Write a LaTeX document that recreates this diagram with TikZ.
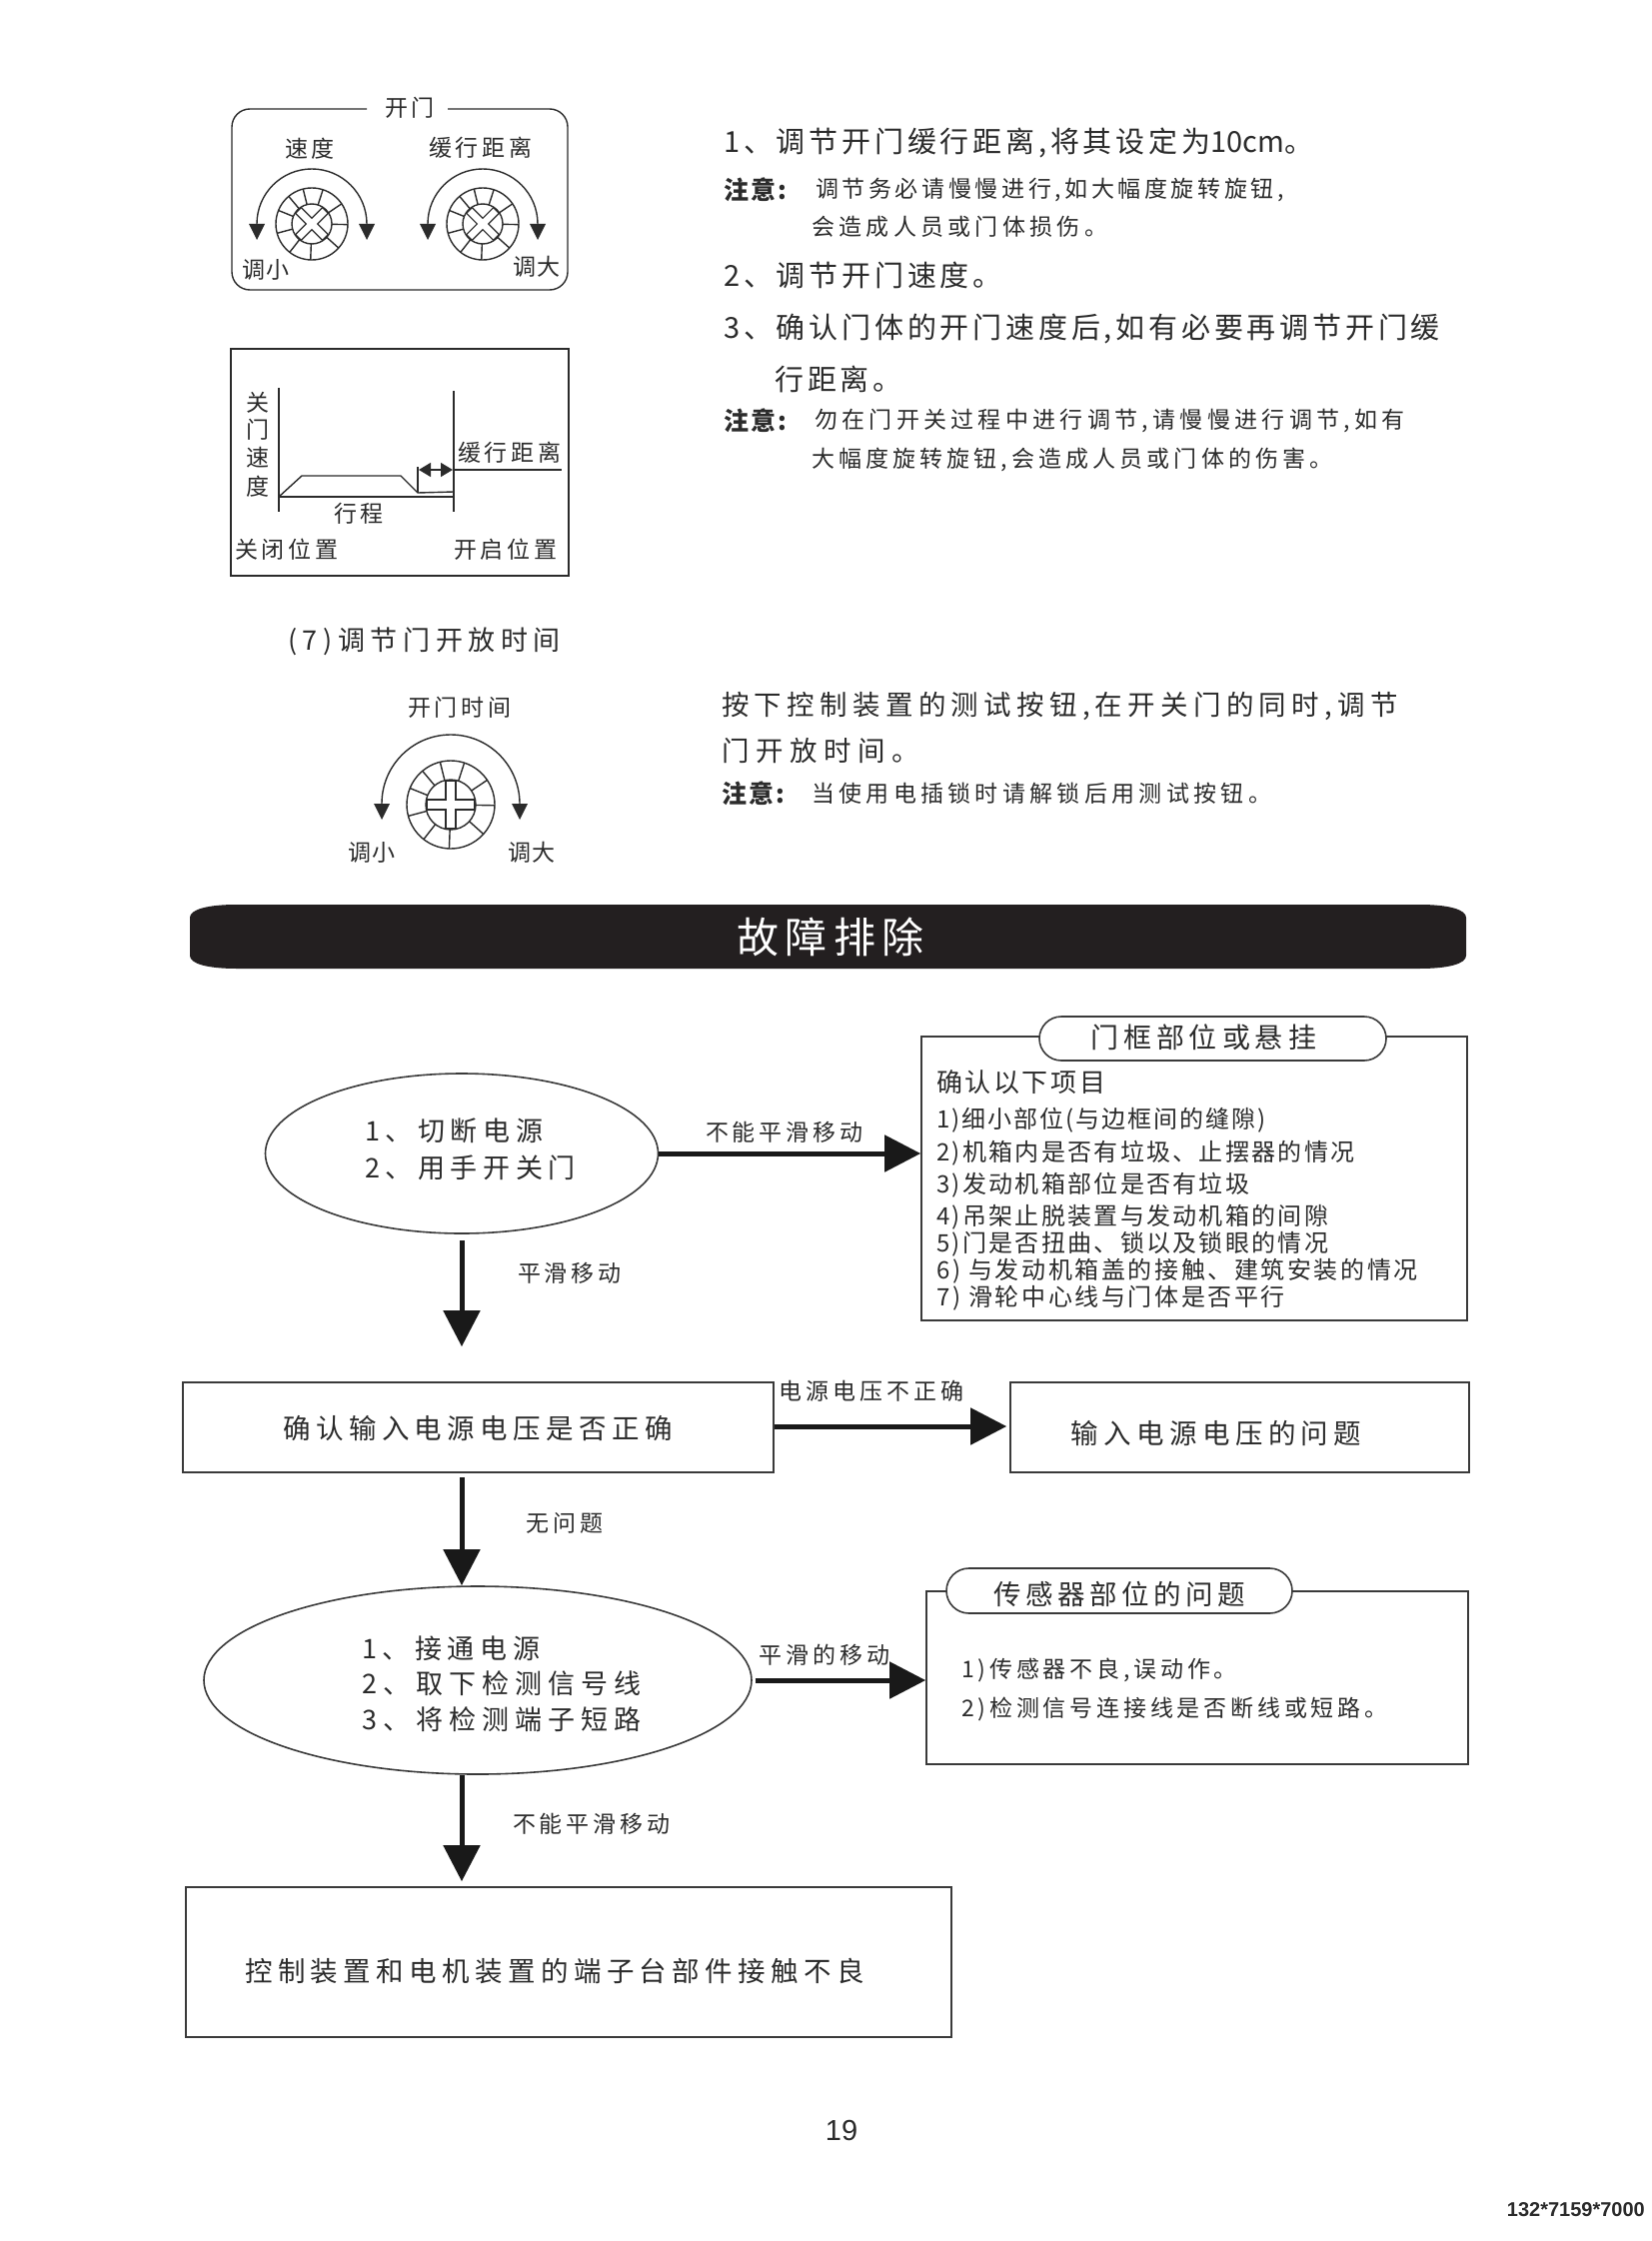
\documentclass[tikz,border=0pt]{standalone}
\usepackage{fontspec}
\setmainfont{Noto Sans CJK SC}
\newfontfamily\latinf{Liberation Sans}
\usetikzlibrary{arrows.meta,shapes.geometric,shapes.misc}
\definecolor{ink}{HTML}{2B2B2B}
\definecolor{boxline}{HTML}{3A3A3A}
\definecolor{bandfill}{HTML}{231F20}
\newcommand\fsz[2]{\pgfmathsetmacro\lsv{(#2-#1)/#1*100}\fontsize{#1}{#1}\selectfont\addfontfeature{LetterSpace=\lsv}}
\tikzset{
  txt/.style={anchor=west,inner sep=0pt,text=ink},
  ctr/.style={anchor=center,inner sep=0pt,text=ink},
  thin box/.style={draw=boxline,line width=1.6pt,fill=white,rectangle,inner sep=0pt},
  oval/.style={draw=boxline,line width=1.6pt,ellipse,inner sep=0pt,fill=white},
  capsule/.style={draw=boxline,line width=1.6pt,rounded rectangle,inner sep=0pt,fill=white},
  bigarrow/.style={draw=black!90,line width=5pt,-{Triangle[length=36pt,width=36pt]}},
  fine/.style={draw=ink,line width=1.4pt},
  tri/.style={fill=ink,draw=none}
}
% \knobdial{x}{y}{R}{r}{rot}{arm halfwidth}
\newcommand\knobdial[6]{%
 \begin{scope}[shift={(#1,#2)}]
  \draw[fine] (0,0) circle[radius=#3pt];
  \draw[fine] (0,0) circle[radius=#4pt];
  \foreach \a in {-1,34,72,104,130,158,195,232,268,318}{\draw[fine] (\a:#4pt) -- (\a:#3pt);}
  \begin{scope}[rotate=#5]
   \draw[fine,line width=1.2pt] (-#4+1,-#6) -- (-#6,-#6) -- (-#6,-#4+1) -- (#6,-#4+1) -- (#6,-#6) -- (#4-1,-#6) -- (#4-1,#6) -- (#6,#6) -- (#6,#4-1) -- (-#6,#4-1) -- (-#6,#6) -- (-#4+1,#6) -- cycle;
  \end{scope}
 \end{scope}}
% \knobarc{cx}{cy}{r}
\newcommand\knobarc[3]{%
 \draw[fine] ({#1-#3},#2) arc[start angle=180,end angle=0,radius=#3pt];
 \fill[tri] ({#1-#3-8},#2) -- ({#1-#3+8},#2) -- ({#1-#3},{#2+16}) -- cycle;
 \fill[tri] ({#1+#3-8},#2) -- ({#1+#3+8},#2) -- ({#1+#3},{#2+16}) -- cycle;}
\begin{document}
\begin{tikzpicture}[x=1pt,y=-1pt]
\useasboundingbox[fill=white] (0,0) rectangle (1653,2242);

% ---------- top-left panel
\draw[fine,rounded corners=18pt] (367,109) -- (232,109) -- (232,290) -- (568,290) -- (568,109) -- (448,109);
\node[ctr] (tOpen) at (410,108) {\fsz{23}{27}开门};
\node[ctr] (tSpeed) at (310,149) {\fsz{23}{27}速度};
\node[ctr] (tBuf) at (481,148) {\fsz{23}{27}缓行距离};
\node[ctr] (tSmall) at (266,270) {\fsz{23}{25}调小};
\node[ctr] (tBig) at (537,267) {\fsz{23}{25}调大};
\knobdial{312}{224}{36}{20}{45}{4}
\knobdial{483}{224}{36}{20}{45}{4}
\knobarc{312}{224}{55}
\knobarc{483}{224}{55}

% ---------- graph panel
\draw[fine] (231,349) rectangle (569,576);
\draw[fine] (279,388) -- (279,512);
\draw[fine] (454,391) -- (454,512);
\draw[fine] (279,497) -- (454,497);
\draw[fine] (279,497) -- (302,476) -- (401,476) -- (418,493) -- (454,492);
\draw[fine] (418,493) -- (418,467);
\draw[fine] (454,470) -- (562,470);
\draw[fine,{Triangle[length=12pt,width=14pt]}-{Triangle[length=12pt,width=14pt]}] (419,470) -- (453,470);
\node[ctr] (vA) at (258,403) {\fsz{23}{23}关};
\node[ctr] (vB) at (258,430) {\fsz{23}{23}门};
\node[ctr] (vC) at (258,458) {\fsz{23}{23}速};
\node[ctr] (vD) at (258,487) {\fsz{23}{23}度};
\node[ctr] (gBuf) at (510,453) {\fsz{23}{27}缓行距离};
\node[ctr] (gRun) at (359,514) {\fsz{23}{27}行程};
\node[ctr] (gClose) at (287,550) {\fsz{23}{27}关闭位置};
\node[ctr] (gOpen) at (506,550) {\fsz{23}{27}开启位置};

% ---------- open time
\node[txt] (t7) at (288,642) {\fsz{27}{32.6}(7)调节门开放时间};
\node[ctr] (tTime) at (460,708) {\fsz{23}{27}开门时间};
\knobdial{451}{805}{44}{25}{0}{5}
\knobarc{451}{804}{69}
\node[ctr] (t3s) at (372,853) {\fsz{23}{25}调小};
\node[ctr] (t3b) at (532,853) {\fsz{23}{25}调大};

% ---------- right text
\node[txt] (r1) at (724,143) {\fsz{29}{32.8}1、调节开门缓行距离,将其设定为{\fsz{29}{29}10cm}。};
\node[txt,font=\bfseries] (n1) at (724,190) {\fsz{25}{27}注意:};
\node[txt] (r2) at (816,190) {\fsz{23}{26.6}调节务必请慢慢进行,如大幅度旋转旋钮,};
\node[txt] (r3) at (812,227) {\fsz{23}{27.3}会造成人员或门体损伤。};
\node[txt] (r4) at (724,275) {\fsz{29}{32.8}2、调节开门速度。};
\node[txt] (r5) at (724,329) {\fsz{29}{32.8}3、确认门体的开门速度后,如有必要再调节开门缓};
\node[txt] (r6) at (775,379) {\fsz{29}{32.8}行距离。};
\node[txt,font=\bfseries] (n2) at (724,421) {\fsz{25}{27}注意:};
\node[txt] (r7) at (815,421) {\fsz{23}{27.3}勿在门开关过程中进行调节,请慢慢进行调节,如有};
\node[txt] (r8) at (812,460) {\fsz{23}{27.1}大幅度旋转旋钮,会造成人员或门体的伤害。};
\node[txt] (r9) at (722,706) {\fsz{27.5}{32.8}按下控制装置的测试按钮,在开关门的同时,调节};
\node[txt] (r10) at (722,751) {\fsz{27.5}{34}门开放时间。};
\node[txt,font=\bfseries] (n3) at (722,794) {\fsz{25}{27}注意:};
\node[txt] (r11) at (812,794) {\fsz{23}{27.3}当使用电插锁时请解锁后用测试按钮。};

% ---------- band
\fill[bandfill] (237,905) -- (1420,905) .. controls (1450,905) and (1467,910) .. (1467,918) -- (1467,956) .. controls (1467,964) and (1450,969) .. (1420,969) -- (237,969) .. controls (207,969) and (190,964) .. (190,956) -- (190,918) .. controls (190,910) and (207,905) .. (237,905) -- cycle;
\node[ctr,text=white] (band) at (831,937) {\fsz{42}{48.5}故障排除};

% ---------- flow shapes
\node[oval,minimum width=393pt,minimum height=160pt] (e1) at (462,1154) {};
\node[oval,minimum width=548pt,minimum height=188pt] (e2) at (478,1681) {};
\node[thin box,minimum width=546pt,minimum height=284pt] (b1) at (1195,1179) {};
\node[capsule,minimum width=347pt,minimum height=44pt] (c1) at (1213.5,1039) {};
\node[thin box,minimum width=591pt,minimum height=90pt] (b2) at (478.5,1428) {};
\node[thin box,minimum width=459pt,minimum height=90pt] (b3) at (1240.5,1428) {};
\node[thin box,minimum width=542pt,minimum height=173pt] (b4) at (1198,1678.5) {};
\node[capsule,minimum width=346pt,minimum height=45pt] (c4) at (1120,1591.5) {};
\node[thin box,minimum width=766pt,minimum height=150pt] (b5) at (569,1963) {};

% ---------- flow text
\node[txt] (e1a) at (365,1131) {\fsz{27}{32.6}1、切断电源};
\node[txt] (e1b) at (365,1168) {\fsz{27}{32.6}2、用手开关门};
\node[txt] (e2a) at (362,1649) {\fsz{27}{32.6}1、接通电源};
\node[txt] (e2b) at (362,1684) {\fsz{27}{33}2、取下检测信号线};
\node[txt] (e2c) at (362,1720) {\fsz{27}{33}3、将检测端子短路};
\node[ctr] (c1t) at (1204,1038) {\fsz{28}{33}门框部位或悬挂};
\node[ctr] (c4t) at (1120,1595) {\fsz{27.5}{32}传感器部位的问题};
\node[txt] (l0) at (937,1083) {\fsz{26}{28.6}确认以下项目};
\node[txt] (l1) at (937,1121) {\fsz{24}{26}1)细小部位(与边框间的缝隙)};
\node[txt] (l2) at (937,1154) {\fsz{24}{26.3}2)机箱内是否有垃圾、止摆器的情况};
\node[txt] (l3) at (937,1186) {\fsz{24}{26.3}3)发动机箱部位是否有垃圾};
\node[txt] (l4) at (937,1218) {\fsz{24}{26.3}4)吊架止脱装置与发动机箱的间隙};
\node[txt] (l5) at (937,1245) {\fsz{24}{26.3}5)门是否扭曲、锁以及锁眼的情况};
\node[txt] (l6) at (937,1272) {\fsz{24}{26.6}6) 与发动机箱盖的接触、建筑安装的情况};
\node[txt] (l7) at (937,1299) {\fsz{24}{26.6}7) 滑轮中心线与门体是否平行};
\node[ctr] (b2t) at (478,1429) {\fsz{27.5}{32.9}确认输入电源电压是否正确};
\node[ctr] (b3t) at (1217,1434) {\fsz{27.5}{32.9}输入电源电压的问题};
\node[txt] (s1) at (962,1671) {\fsz{23}{26.8}1)传感器不良,误动作。};
\node[txt] (s2) at (962,1710) {\fsz{23}{26.8}2)检测信号连接线是否断线或短路。};
\node[ctr] (b5t) at (555,1972) {\fsz{27.5}{32.9}控制装置和电机装置的端子台部件接触不良};

% ---------- connectors
\draw[bigarrow] (e1.east) -- (b1.west |- e1.east);
\draw[bigarrow,shorten <=6pt,shorten >=35pt] (e1.south) -- (e1.south |- b2.north);
\draw[bigarrow,shorten >=3pt] ([yshift=1pt]b2.east) -- ([yshift=1pt]b3.west);
\draw[bigarrow,shorten <=4pt] (e1.south |- b2.south) -- (e1.south |- e2.north);
\draw[bigarrow,shorten <=3pt] (e2.east) -- (b4.west |- e2.east);
\draw[bigarrow,shorten >=5pt] (e1.south |- e2.south) -- (e1.south |- b5.north);

% ---------- connector labels
\node[ctr] (a1) at (785,1133) {\fsz{23}{27}不能平滑移动};
\node[ctr] (a2) at (570,1274) {\fsz{23}{27}平滑移动};
\node[ctr] (a3) at (872,1392) {\fsz{23}{27}电源电压不正确};
\node[ctr] (a4) at (565,1524) {\fsz{23}{27}无问题};
\node[ctr] (a5) at (825,1656) {\fsz{23}{27}平滑的移动};
\node[ctr] (a6) at (592,1825) {\fsz{23}{27}不能平滑移动};

% ---------- footer
\node[ctr,font=\latinf] (pg) at (842,2131) {\fontsize{29}{29}\selectfont 19};
\node[anchor=east,inner sep=0pt,font=\latinf\bfseries,text=ink] (code) at (1646,2211) {\fontsize{20}{20}\selectfont 132*7159*7000};
\end{tikzpicture}
\end{document}
